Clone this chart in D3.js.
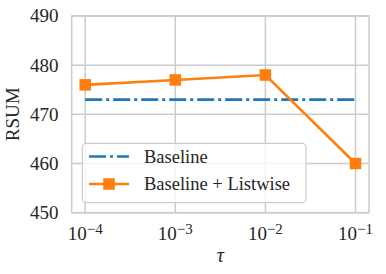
<!DOCTYPE html>
<html>
<head>
<meta charset="utf-8">
<script src="https://cdn.jsdelivr.net/npm/d3@7"></script>
<style>
  html, body { margin: 0; padding: 0; background: #fff; }
  svg { display: block; }
</style>
</head>
<body>
<div id="chart"></div>
<script>
// data
const tauExp = [-4, -3, -2, -1];
const listwise = [476, 477, 478, 460];
const baseline = [473, 473, 473, 473];
const yTicks = [450, 460, 470, 480, 490];
const seriesNames = ["Baseline", "Baseline + Listwise"];

const W = 386, H = 274;
const blue = "#1f77b4", orange = "#ff7f0e", gridCol = "#cccccc";
const serif = '"Liberation Serif"';

const svg = d3.select("#chart").append("svg")
    .attr("width", W).attr("height", H);

// scales (log x with 5% margins like matplotlib)
const x = d3.scaleLog()
    .domain([Math.pow(10, -4.15), Math.pow(10, -0.85)])
    .range([71.7, 369]);
const y = d3.scaleLinear()
    .domain([450, 490])
    .range([212.7, 16]);

const [x0, x1] = x.range();
const [yb, yt] = y.range();

// grid
const grid = svg.append("g");
grid.selectAll(".gy").data(yTicks).join("line")
    .attr("x1", x0).attr("x2", x1)
    .attr("y1", d => y(d)).attr("y2", d => y(d))
    .attr("stroke", gridCol).attr("stroke-width", 1.5);
grid.selectAll(".gx").data(tauExp).join("line")
    .attr("x1", d => x(Math.pow(10, d))).attr("x2", d => x(Math.pow(10, d)))
    .attr("y1", yt).attr("y2", yb)
    .attr("stroke", gridCol).attr("stroke-width", 1.5);

// frame
svg.append("rect")
    .attr("x", x0).attr("y", yt)
    .attr("width", x1 - x0).attr("height", yb - yt)
    .attr("fill", "none").attr("stroke", gridCol).attr("stroke-width", 1.5);

// y tick labels
svg.append("g").selectAll("text").data(yTicks).join("text")
    .attr("x", 58.5).attr("y", d => y(d))
    .attr("dy", "0.34em")
    .attr("text-anchor", "end")
    .style("font-family", serif)
    .style("font-size", "19px").style("fill", "#262626")
    .text(d => d);

// x tick labels with superscripts
const xt = svg.append("g").selectAll("text").data(tauExp).join("text")
    .attr("x", d => x(Math.pow(10, d)))
    .attr("y", 240)
    .attr("text-anchor", "middle")
    .style("font-family", serif)
    .style("font-size", "19px").style("fill", "#262626");
xt.append("tspan").text("10");
xt.append("tspan")
    .attr("dy", -6)
    .style("font-size", "15px")
    .text(d => "\u2212" + Math.abs(d));

// axis labels
svg.append("text")
    .attr("x", (x0 + x1) / 2).attr("y", 261.5)
    .attr("text-anchor", "middle")
    .style("font-family", serif)
    .style("font-size", "20px").style("font-style", "italic").style("fill", "#262626")
    .text("\u03c4");

svg.append("text")
    .attr("transform", "translate(18.5," + ((yt + yb) / 2) + ") rotate(-90)")
    .attr("text-anchor", "middle")
    .style("font-family", serif)
    .style("font-size", "19px").style("fill", "#262626")
    .text("RSUM");

// lines
const line = d3.line()
    .x((d, i) => x(Math.pow(10, tauExp[i])))
    .y(d => y(d));

svg.append("path").datum(baseline)
    .attr("d", line)
    .attr("fill", "none").attr("stroke", blue).attr("stroke-width", 2.6)
    .attr("stroke-dasharray", "17,4,3,4");

svg.append("path").datum(listwise)
    .attr("d", line)
    .attr("fill", "none").attr("stroke", orange).attr("stroke-width", 2.6);

const ms = 11.5;
svg.append("g").selectAll("rect").data(listwise).join("rect")
    .attr("x", (d, i) => x(Math.pow(10, tauExp[i])) - ms / 2)
    .attr("y", d => y(d) - ms / 2)
    .attr("width", ms).attr("height", ms)
    .attr("fill", orange);

// legend
const lg = svg.append("g");
lg.append("rect")
    .attr("x", 82.3).attr("y", 143.3)
    .attr("width", 306 - 82.3).attr("height", 202.7 - 143.3)
    .attr("rx", 4)
    .attr("fill", "#fff").attr("fill-opacity", 0.8)
    .attr("stroke", gridCol).attr("stroke-width", 1.2);

const rowsY = [156.5, 184];
lg.append("line")
    .attr("x1", 89).attr("x2", 129)
    .attr("y1", rowsY[0]).attr("y2", rowsY[0])
    .attr("stroke", blue).attr("stroke-width", 2.6)
    .attr("stroke-dasharray", "17,4,3,4");
lg.append("line")
    .attr("x1", 89).attr("x2", 129)
    .attr("y1", rowsY[1]).attr("y2", rowsY[1])
    .attr("stroke", orange).attr("stroke-width", 2.6);
lg.append("rect")
    .attr("x", 109 - ms / 2).attr("y", rowsY[1] - ms / 2)
    .attr("width", ms).attr("height", ms)
    .attr("fill", orange);

lg.selectAll(".lt").data(seriesNames).join("text")
    .attr("x", 144).attr("y", (d, i) => rowsY[i])
    .attr("dy", "0.34em")
    .style("font-family", serif)
    .style("font-size", "18.5px").style("fill", "#262626")
    .text(d => d);
</script>
</body>
</html>
